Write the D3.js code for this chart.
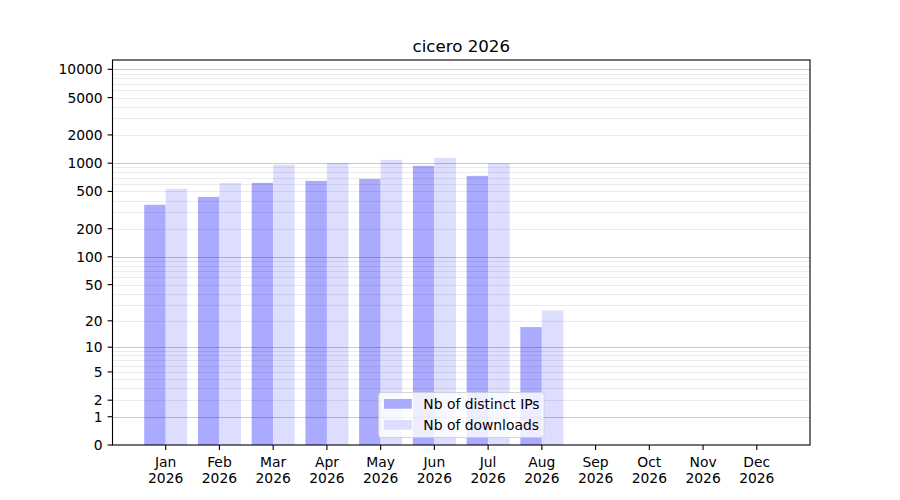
<!DOCTYPE html>
<html>
<head>
<meta charset="utf-8">
<script src="https://cdn.jsdelivr.net/npm/d3@7"></script>
<style>
  html, body { margin: 0; padding: 0; background: #fff; }
  text { font-family: "DejaVu Sans", sans-serif; fill: #000; }
</style>
</head>
<body>
<svg id="chart" width="900" height="500"></svg>
<script>
const title = "cicero 2026";
const months = ["Jan","Feb","Mar","Apr","May","Jun","Jul","Aug","Sep","Oct","Nov","Dec"];
const years = ["2026","2026","2026","2026","2026","2026","2026","2026","2026","2026","2026","2026"];
const distinctIPs = [360, 437, 617, 648, 680, 936, 732, 17, 0, 0, 0, 0];
const downloads   = [533, 617, 959, 1007, 1084, 1138, 995, 26, 0, 0, 0, 0];
const seriesNames = ["Nb of distinct IPs", "Nb of downloads"];
const yTickValues = [0, 1, 2, 5, 10, 20, 50, 100, 200, 500, 1000, 2000, 5000, 10000];
const majorGrid = [1, 10, 100, 1000, 10000];
const minorGrid = [2,3,4,5,6,7,8,9, 20,30,40,50,60,70,80,90,
                   200,300,400,500,600,700,800,900,
                   2000,3000,4000,5000,6000,7000,8000,9000];
const yMax = 12560;

const svg = d3.select("#chart");
const L = 112.5, R = 810, T = 60, B = 445;
const barW = 0.4;

const x = d3.scaleLinear().domain([-barW - 0.59, months.length - 1 + barW + 0.59]).range([L, R]);
const y = d3.scaleSymlog().constant(1).domain([0, yMax]).range([B, T]);

svg.append("rect").attr("x", 0).attr("y", 0).attr("width", 900).attr("height", 500).attr("fill", "#fff");

// bars
const g = svg.append("g");
g.selectAll("rect.ip").data(distinctIPs).join("rect")
  .attr("class", "ip")
  .attr("x", (d, i) => x(i - barW))
  .attr("width", (d, i) => x(i) - x(i - barW))
  .attr("y", d => y(d))
  .attr("height", d => y(0) - y(d))
  .attr("fill", "#aaaaff");
g.selectAll("rect.dl").data(downloads).join("rect")
  .attr("class", "dl")
  .attr("x", (d, i) => x(i))
  .attr("width", (d, i) => x(i + barW) - x(i))
  .attr("y", d => y(d))
  .attr("height", d => y(0) - y(d))
  .attr("fill", "#ddddff");

// grid (drawn above bars like matplotlib)
const grid = svg.append("g");
grid.selectAll("line.minor").data(minorGrid.filter(v => v <= yMax)).join("line")
  .attr("x1", L).attr("x2", R)
  .attr("y1", d => Math.round(y(d)) + 0.5).attr("y2", d => Math.round(y(d)) + 0.5)
  .attr("stroke", "#000").attr("stroke-opacity", 0.075).attr("stroke-width", 1);
grid.selectAll("line.major").data(majorGrid).join("line")
  .attr("x1", L).attr("x2", R)
  .attr("y1", d => Math.round(y(d)) + 0.5).attr("y2", d => Math.round(y(d)) + 0.5)
  .attr("stroke", "#000").attr("stroke-opacity", 0.21).attr("stroke-width", 1);

// spines
svg.append("rect").attr("x", L).attr("y", T).attr("width", R - L).attr("height", B - T)
  .attr("fill", "none").attr("stroke", "#000").attr("stroke-width", 1.1);

// y axis
const yAxis = svg.append("g");
yAxis.selectAll("line").data(yTickValues).join("line")
  .attr("x1", L - 4.9).attr("x2", L)
  .attr("y1", d => y(d)).attr("y2", d => y(d))
  .attr("stroke", "#000").attr("stroke-width", 1.1);
yAxis.selectAll("text").data(yTickValues).join("text")
  .attr("x", L - 9.8).attr("y", d => y(d))
  .attr("dy", "0.36em")
  .attr("text-anchor", "end")
  .attr("font-size", "13.89px")
  .text(d => d);

// x axis
const xAxis = svg.append("g");
xAxis.selectAll("line").data(months).join("line")
  .attr("x1", (d, i) => x(i)).attr("x2", (d, i) => x(i))
  .attr("y1", B).attr("y2", B + 4.9)
  .attr("stroke", "#000").attr("stroke-width", 1.1);
xAxis.selectAll("text.m").data(months).join("text")
  .attr("class", "m")
  .attr("x", (d, i) => x(i)).attr("y", 467)
  .attr("text-anchor", "middle").attr("font-size", "13.89px")
  .text(d => d);
xAxis.selectAll("text.yr").data(years).join("text")
  .attr("class", "yr")
  .attr("x", (d, i) => x(i)).attr("y", 482.5)
  .attr("text-anchor", "middle").attr("font-size", "13.89px")
  .text(d => d);

// title
svg.append("text").attr("x", (L + R) / 2).attr("y", 52)
  .attr("text-anchor", "middle").attr("font-size", "16.67px")
  .text(title);

// legend
const lg = svg.append("g");
lg.append("rect").attr("x", 378.5).attr("y", 392.5).attr("width", 165.5).attr("height", 45)
  .attr("rx", 2.8).attr("ry", 2.8)
  .attr("fill", "#fff").attr("fill-opacity", 0.8)
  .attr("stroke", "#cccccc").attr("stroke-opacity", 0.8).attr("stroke-width", 1);
const legendColors = ["#aaaaff", "#ddddff"];
seriesNames.forEach((name, i) => {
  const cy = 404 + i * 21;
  lg.append("rect").attr("x", 384).attr("y", cy - 5).attr("width", 27.8).attr("height", 9.7)
    .attr("fill", legendColors[i]);
  lg.append("text").attr("x", 423.3).attr("y", cy).attr("dy", "0.36em")
    .attr("font-size", "13.89px").text(name);
});
</script>
</body>
</html>
